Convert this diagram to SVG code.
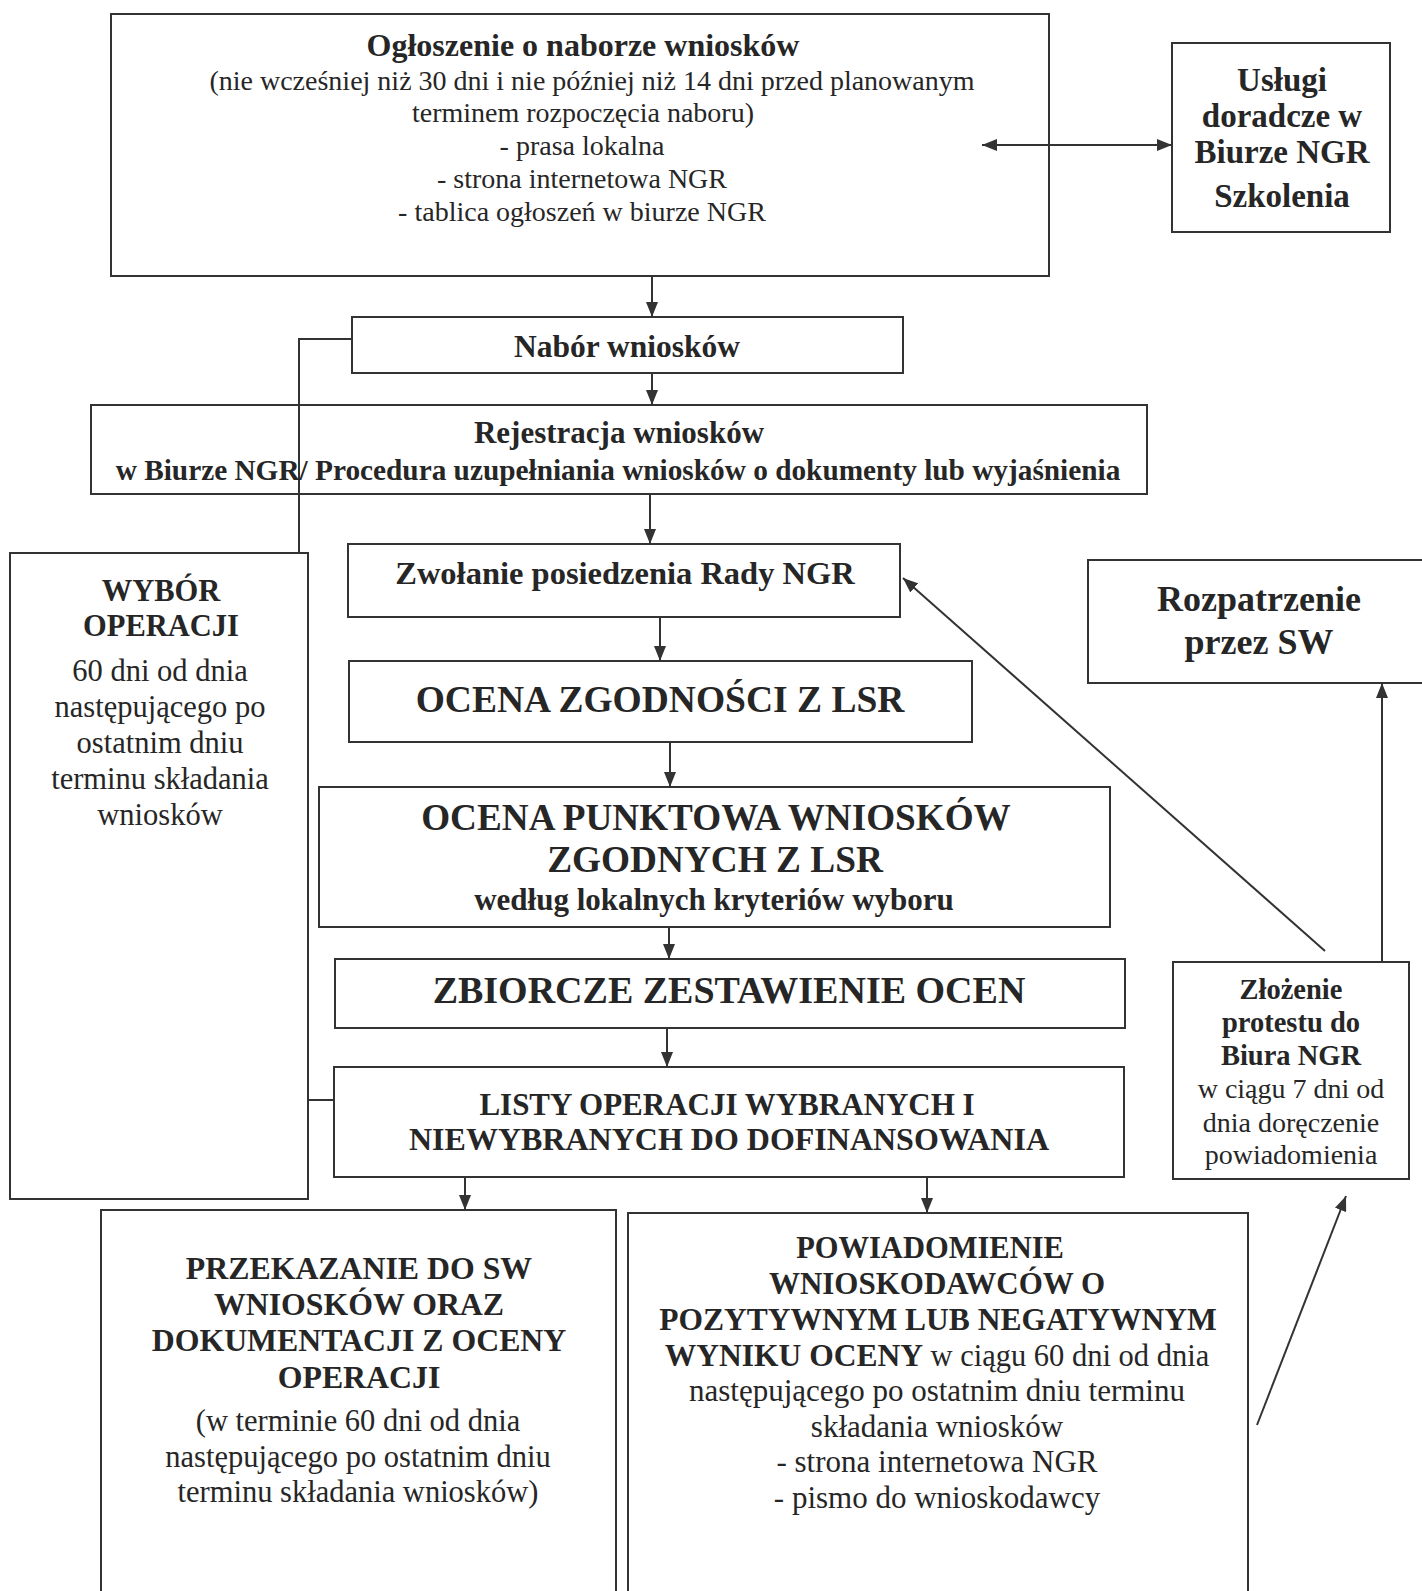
<svg xmlns="http://www.w3.org/2000/svg" width="1422" height="1591" viewBox="0 0 1422 1591">
<defs>
<style>
.box{fill:none;stroke:#333;stroke-width:2}
.ln{fill:none;stroke:#333;stroke-width:2}
.arr{marker-end:url(#ah)}
.t{font-family:"Liberation Serif","Times New Roman",serif;fill:#262626;text-anchor:middle}
.b{font-weight:bold}
</style>
<marker id="ah" markerUnits="userSpaceOnUse" markerWidth="15" markerHeight="12" refX="15" refY="6" orient="auto-start-reverse">
<path d="M0,0 L15,6 L0,12 z" fill="#333"/>
</marker>
</defs>
<rect width="1422" height="1591" fill="#fff"/>

<g id="connectors">
<line class="ln" x1="982" y1="145" x2="1172" y2="145" marker-start="url(#ah)" marker-end="url(#ah)"/>
<line class="ln arr" x1="652" y1="276" x2="652" y2="317"/>
<line class="ln arr" x1="652" y1="373" x2="652" y2="405"/>
<line class="ln arr" x1="650" y1="494" x2="650" y2="544"/>
<polyline class="ln" points="352,339 299,339 299,553"/>
<line class="ln arr" x1="660" y1="617" x2="660" y2="661"/>
<line class="ln arr" x1="670" y1="742" x2="670" y2="787"/>
<line class="ln arr" x1="669" y1="927" x2="669" y2="959"/>
<line class="ln arr" x1="667" y1="1028" x2="667" y2="1067"/>
<line class="ln" x1="308" y1="1100" x2="334" y2="1100"/>
<line class="ln arr" x1="465" y1="1177" x2="465" y2="1210"/>
<line class="ln arr" x1="927" y1="1177" x2="927" y2="1213"/>
<line class="ln arr" x1="1325" y1="951" x2="903" y2="578"/>
<line class="ln arr" x1="1382" y1="962" x2="1382" y2="683"/>
<line class="ln arr" x1="1257" y1="1425" x2="1346" y2="1196"/>
</g>

<g id="n1">
<rect class="box" x="111" y="14" width="938" height="262"/>
<text class="t b" x="583" y="56" font-size="32">Ogłoszenie o naborze wniosków</text>
<text class="t" x="592" y="90" font-size="28">(nie wcześniej niż 30 dni i nie później niż 14 dni przed planowanym</text>
<text class="t" x="583" y="122" font-size="28">terminem rozpoczęcia naboru)</text>
<text class="t" x="582" y="155" font-size="28">- prasa lokalna</text>
<text class="t" x="582" y="188" font-size="28">- strona internetowa NGR</text>
<text class="t" x="582" y="221" font-size="28">- tablica ogłoszeń w biurze NGR</text>
</g>

<g id="n2">
<rect class="box" x="1172" y="43" width="218" height="189"/>
<text class="t b" x="1282" y="91" font-size="33">Usługi</text>
<text class="t b" x="1282" y="127" font-size="33">doradcze w</text>
<text class="t b" x="1282" y="163" font-size="33">Biurze NGR</text>
<text class="t b" x="1282" y="207" font-size="33">Szkolenia</text>
</g>

<g id="n3">
<rect class="box" x="352" y="317" width="551" height="56"/>
<text class="t b" x="627" y="357" font-size="31.5">Nabór wniosków</text>
</g>

<g id="n4">
<rect class="box" x="91" y="405" width="1056" height="89"/>
<text class="t b" x="619" y="443" font-size="31">Rejestracja wniosków</text>
<text class="t b" x="618" y="480" font-size="29.3">w Biurze NGR/ Procedura uzupełniania wniosków o dokumenty lub wyjaśnienia</text>
</g>

<g id="n5">
<rect class="box" x="10" y="553" width="298" height="646"/>
<text class="t b" x="161" y="601" font-size="30.5">WYBÓR</text>
<text class="t b" x="161" y="636" font-size="30.5">OPERACJI</text>
<text class="t" x="160" y="681" font-size="30.5">60 dni od dnia</text>
<text class="t" x="160" y="717" font-size="30.5">następującego po</text>
<text class="t" x="160" y="753" font-size="30.5">ostatnim dniu</text>
<text class="t" x="160" y="789" font-size="30.5">terminu składania</text>
<text class="t" x="160" y="825" font-size="30.5">wniosków</text>
</g>

<g id="n6">
<rect class="box" x="348" y="544" width="552" height="73"/>
<text class="t b" x="625" y="584" font-size="32.5">Zwołanie posiedzenia Rady NGR</text>
</g>

<g id="n7">
<rect class="box" x="349" y="661" width="623" height="81"/>
<text class="t b" x="660" y="712" font-size="37.5">OCENA ZGODNOŚCI Z LSR</text>
</g>

<g id="n8">
<rect class="box" x="319" y="787" width="791" height="140"/>
<text class="t b" x="716" y="830" font-size="37.2">OCENA PUNKTOWA WNIOSKÓW</text>
<text class="t b" x="715" y="872" font-size="37.3">ZGODNYCH Z LSR</text>
<text class="t b" x="714" y="910" font-size="31">według lokalnych kryteriów wyboru</text>
</g>

<g id="n9">
<rect class="box" x="335" y="959" width="790" height="69"/>
<text class="t b" x="729" y="1003" font-size="38">ZBIORCZE ZESTAWIENIE OCEN</text>
</g>

<g id="n10">
<rect class="box" x="334" y="1067" width="790" height="110"/>
<text class="t b" x="727" y="1115" font-size="31">LISTY OPERACJI WYBRANYCH I</text>
<text class="t b" x="729" y="1150" font-size="32">NIEWYBRANYCH DO DOFINANSOWANIA</text>
</g>

<g id="n11">
<rect class="box" x="101" y="1210" width="515" height="400"/>
<text class="t b" x="359" y="1279" font-size="31.8">PRZEKAZANIE DO SW</text>
<text class="t b" x="359" y="1315" font-size="31.8">WNIOSKÓW ORAZ</text>
<text class="t b" x="359" y="1351" font-size="31.8">DOKUMENTACJI Z OCENY</text>
<text class="t b" x="359" y="1388" font-size="31.8">OPERACJI</text>
<text class="t" x="358" y="1431" font-size="30.5">(w terminie 60 dni od dnia</text>
<text class="t" x="358" y="1467" font-size="30.5">następującego po ostatnim dniu</text>
<text class="t" x="358" y="1502" font-size="30.5">terminu składania wniosków)</text>
</g>

<g id="n12">
<rect class="box" x="628" y="1213" width="620" height="400"/>
<text class="t b" x="930" y="1258" font-size="30.5">POWIADOMIENIE</text>
<text class="t b" x="937" y="1294" font-size="31">WNIOSKODAWCÓW O</text>
<text class="t b" x="938" y="1330" font-size="31.5">POZYTYWNYM LUB NEGATYWNYM</text>
<text class="t" x="937" y="1366" font-size="30.5"><tspan class="b" font-size="31.5">WYNIKU OCENY</tspan> w ciągu 60 dni od dnia</text>
<text class="t" x="937" y="1401" font-size="31">następującego po ostatnim dniu terminu</text>
<text class="t" x="937" y="1437" font-size="31">składania wniosków</text>
<text class="t" x="937" y="1472" font-size="31">- strona internetowa NGR</text>
<text class="t" x="937" y="1508" font-size="31">- pismo do wnioskodawcy</text>
</g>

<g id="n13">
<rect class="box" x="1088" y="560" width="340" height="123"/>
<text class="t b" x="1259" y="611" font-size="36">Rozpatrzenie</text>
<text class="t b" x="1259" y="654" font-size="36">przez SW</text>
</g>

<g id="n14">
<rect class="box" x="1173" y="962" width="236" height="217"/>
<text class="t b" x="1291" y="999" font-size="28.5">Złożenie</text>
<text class="t b" x="1291" y="1032" font-size="28.5">protestu do</text>
<text class="t b" x="1291" y="1065" font-size="28.5">Biura NGR</text>
<text class="t" x="1291" y="1098" font-size="28">w ciągu 7 dni od</text>
<text class="t" x="1291" y="1132" font-size="28">dnia doręczenie</text>
<text class="t" x="1291" y="1164" font-size="28">powiadomienia</text>
</g>
</svg>
